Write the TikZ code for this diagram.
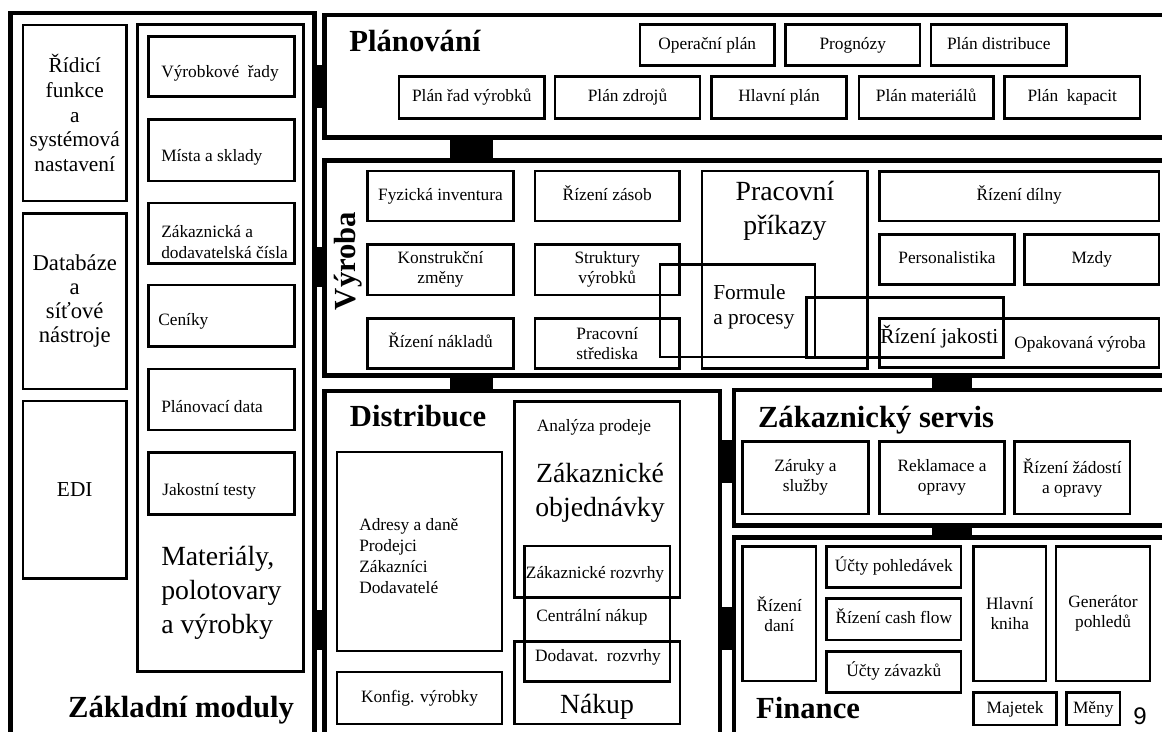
\documentclass[tikz,border=0pt]{standalone}
\usepackage{fontspec}
\setmainfont{Liberation Serif}
\newfontfamily\pagenumfont{Liberation Sans}
\usetikzlibrary{fit}

\tikzset{
  frame/.style={draw, line width=3.4pt, inner sep=0pt},
  box/.style={draw, line width=2.2pt, inner sep=0pt},
  link/.style={fill=black},
  lbl2/.style={inner sep=0.75pt, align=center, font=\fontsize{13}{15}\selectfont},
  lbl/.style={lbl2, text height=9.4pt, text depth=2.9pt},
  txt/.style={inner sep=0.75pt, align=left, font=\fontsize{13}{15.75}\selectfont},
  midtxt/.style={inner sep=0.75pt, align=left, font=\fontsize{16}{18.75}\selectfont},
  bigtxt/.style={inner sep=0.75pt, align=center, font=\fontsize{20.8}{25.5}\selectfont},
  headtxt/.style={inner sep=0.75pt, anchor=base, font=\fontsize{23}{27}\selectfont\bfseries},
}

\begin{document}
\begin{tikzpicture}[x=0.75pt,y=0.75pt,yscale=-1,xscale=1]
    \useasboundingbox (0,0) rectangle (1162,731);
    \clip (0,0) rectangle (1162,731);
    \fill[white] (0,0) rectangle (1162,731);

    % Frames
    \node[frame, fit={(10.5,13) (314.5,745)}] (zaklad) {};
    \node[frame, fit={(324.5,15) (1180,137.5)}] (plan) {};
    \node[frame, fit={(324.5,160.5) (1180,375.5)}] (vyroba) {};
    \node[frame, fit={(324.5,391) (720,745)}] (distr) {};
    \node[frame, fit={(734,390) (1180,525.5)}] (servis) {};
    \node[frame, fit={(734,537.5) (1180,745)}] (fin) {};

    % Links between frames
    \fill[link] (zaklad.east |- 0,65) rectangle (plan.west |- 0,108);
    \fill[link] (zaklad.east |- 0,247) rectangle (vyroba.west |- 0,287);
    \fill[link] (zaklad.east |- 0,610) rectangle (distr.west |- 0,650);
    \fill[link] (plan.south -| 450,0) rectangle (vyroba.north -| 493,0);
    \fill[link] (vyroba.south -| 450,0) rectangle (distr.north -| 493,0);
    \fill[link] (vyroba.south -| 932,0) rectangle (servis.north -| 972,0);
    \fill[link] (distr.east |- 0,440) rectangle (servis.west |- 0,483);
    \fill[link] (servis.south -| 932,0) rectangle (fin.north -| 972,0);
    \fill[link] (distr.east |- 0,607) rectangle (fin.west |- 0,650);

    % Zakladni moduly
    \node[box, fit={(23,25) (126.5,201)}] (ridici) {};
    \node[lbl2, font=\fontsize{16}{18.5}\selectfont] (ridici-l) at (ridici) {Řídicí\\funkce\\a\\systémová\\nastavení};
    \node[box, fit={(23,213.5) (126.5,389)}] (datab) {};
    \node[lbl2, font=\fontsize{17}{18}\selectfont] (datab-l) at (datab) {Databáze\\a\\síťové\\nástroje};
    \node[box, fit={(23,401) (126.5,578.5)}] (edi) {};
    \node[lbl2, font=\fontsize{16}{18.5}\selectfont] (edi-l) at (edi) {EDI};
    \node[box, fit={(137.5,24.5) (303.5,671.5)}] (matcol) {};
    \node[box, fit={(148.5,36.5) (294.5,96.5)}] (vyrrady) {};
    \node[box, fit={(148.5,119.5) (294.5,181)}] (mista) {};
    \node[box, fit={(148.5,203) (294.5,263.5)}] (cisla) {};
    \node[box, fit={(148.5,285) (294.5,346.5)}] (ceniky) {};
    \node[box, fit={(148.5,369) (294.5,430)}] (plandata) {};
    \node[box, fit={(148.5,452.5) (294.5,514.5)}] (jakost) {};
    \node[txt, anchor=west] (vyrrady-l) at (160,73) {Výrobkové~~řady};
    \node[txt, anchor=west] (mista-l) at (160,157) {Místa a sklady};
    \node[txt, anchor=west] (cisla-l) at (160,242) {Zákaznická a\\dodavatelská čísla};
    \node[txt, anchor=west] (ceniky-l) at (157,321) {Ceníky};
    \node[txt, anchor=west] (plandata-l) at (160,407) {Plánovací data};
    \node[txt, anchor=west] (jakost-l) at (161,491) {Jakostní testy};
    \node[bigtxt, align=left, anchor=west] (matcol-l) at (160,593) {Materiály,\\polotovary\\a výrobky};
    \node[headtxt] (zaklad-h) at (181,717) {Základní moduly};

    % Planovani
    \node[headtxt] (plan-h) at (415,52) {Plánování};
    \node[box, fit={(640,24.5) (774.5,65.5)}] (oper) {};
    \node[lbl] (oper-l) at (oper) {Operační plán};
    \node[box, fit={(785.5,24.5) (920,65.5)}] (progn) {};
    \node[lbl] (progn-l) at (progn) {Prognózy};
    \node[box, fit={(931,24.5) (1066.5,65.5)}] (pdistr) {};
    \node[lbl] (pdistr-l) at (pdistr) {Plán distribuce};
    \node[box, fit={(399,76.5) (544.5,118.5)}] (pradv) {};
    \node[lbl] (pradv-l) at (pradv) {Plán řad výrobků};
    \node[box, fit={(555,76.5) (700,118.5)}] (pzdr) {};
    \node[lbl] (pzdr-l) at (pzdr) {Plán zdrojů};
    \node[box, fit={(711.5,76.5) (846.5,118.5)}] (hlplan) {};
    \node[lbl] (hlplan-l) at (hlplan) {Hlavní plán};
    \node[box, fit={(859,76.5) (993.5,118.5)}] (pmat) {};
    \node[lbl] (pmat-l) at (pmat) {Plán materiálů};
    \node[box, fit={(1004.5,76.5) (1140,118.5)}] (pkap) {};
    \node[lbl] (pkap-l) at (pkap) {Plán~~kapacit};

    % Vyroba
    \node[headtxt, rotate=90] (vyroba-h) at (355,261) {Výroba};
    \node[box, fit={(367.5,171) (513.5,221)}] (fyz) {};
    \node[lbl] (fyz-l) at (fyz) {Fyzická inventura};
    \node[box, fit={(367.5,244.5) (513.5,295)}] (konstr) {};
    \node[lbl2] (konstr-l) at (konstr) {Konstrukční\\změny};
    \node[box, fit={(367.5,318.5) (513.5,368.5)}] (naklad) {};
    \node[lbl] (naklad-l) at (naklad) {Řízení nákladů};
    \node[box, fit={(535,171) (679.5,221)}] (zasob) {};
    \node[lbl] (zasob-l) at (zasob) {Řízení zásob};
    \node[box, fit={(535,244.5) (679.5,295)}] (strukt) {};
    \node[lbl2] (strukt-l) at (strukt) {Struktury\\výrobků};
    \node[box, fit={(535,318.5) (679.5,368.5)}] (stred) {};
    \node[lbl2] (stred-l) at (stred) {Pracovní\\střediska};
    \node[box, fit={(702,171) (867.5,368.5)}] (prikazy) {};
    \node[box, fit={(660,264.5) (815,357)}] (formule) {};
    \node[box, fit={(879.5,171.5) (1159,221)}] (dilna) {};
    \node[lbl] (dilna-l) at (dilna) {Řízení dílny};
    \node[box, fit={(879.5,234.5) (1014.5,284.5)}] (person) {};
    \node[lbl] (person-l) at (person) {Personalistika};
    \node[box, fit={(1024.5,234.5) (1159,284.5)}] (mzdy) {};
    \node[lbl] (mzdy-l) at (mzdy) {Mzdy};
    \node[box, fit={(879.5,318.5) (1159,367.5)}] (opak) {};
    \node[box, fit={(806.5,297.5) (1003.5,357.5)}] (rjak) {};
    \node[bigtxt] (prikazy-l) at (785,211) {Pracovní\\příkazy};
    \node[midtxt, anchor=west] (formule-l) at (712,307) {Formule\\a procesy};
    \node[midtxt, anchor=west] (rjak-l) at (879,337) {Řízení jakosti};
    \node[txt] (opak-l) at (1080,344) {Opakovaná výroba};

    % Distribuce a nakup
    \node[headtxt] (distr-h) at (418,426) {Distribuce};
    \node[box, fit={(337,452) (502,651)}] (adresy) {};
    \node[box, fit={(337,672) (502,724)}] (konfig) {};
    \node[lbl] (konfig-l) at (konfig) {Konfig. výrobky};
    \node[box, fit={(514.5,401.5) (680,597.5)}] (objed) {};
    \node[box, fit={(514.5,641.5) (680,724)}] (nakup) {};
    \node[box, fit={(524.5,546) (670,681.5)}] (rozvrhy) {};
    \node[txt, anchor=west] (adresy-l) at (358,556) {Adresy a daně\\Prodejci\\Zákazníci\\Dodavatelé};
    \node[txt] (analyza-l) at (594,427) {Analýza prodeje};
    \node[bigtxt] (objed-l) at (600,493) {Zákaznické\\objednávky};
    \node[txt] (zrozvrhy-l) at (595,574) {Zákaznické rozvrhy};
    \node[txt] (centr-l) at (592,617) {Centrální nákup};
    \node[txt] (drozvrhy-l) at (598,657) {Dodavat.~~rozvrhy};
    \node[bigtxt] (nakup-l) at (597,707) {Nákup};

    % Zakaznicky servis
    \node[headtxt] (servis-h) at (876,427) {Zákaznický servis};
    \node[box, fit={(742.5,441.5) (868.5,514)}] (zaruky) {};
    \node[lbl2] (zaruky-l) at (zaruky) {Záruky a\\služby};
    \node[box, fit={(879.5,441.5) (1004.5,514)}] (reklam) {};
    \node[lbl2] (reklam-l) at (reklam) {Reklamace a\\opravy};
    \node[box, fit={(1014.5,441.5) (1130,514)}] (zadost) {};
    \node[lbl2] (zadost-l) at (zadost) {Řízení žádostí\\a opravy};

    % Finance
    \node[headtxt] (fin-h) at (808,718) {Finance};
    \node[box, fit={(742.5,546.5) (816,681)}] (dane) {};
    \node[lbl2] (dane-l) at (dane) {Řízení\\daní};
    \node[box, fit={(826.5,546.5) (961,587.5)}] (pohl) {};
    \node[lbl] (pohl-l) at (pohl) {Účty pohledávek};
    \node[box, fit={(826.5,598.5) (961,640)}] (cash) {};
    \node[lbl] (cash-l) at (cash) {Řízení cash flow};
    \node[box, fit={(826.5,651.5) (961,692.5)}] (zavaz) {};
    \node[lbl] (zavaz-l) at (zavaz) {Účty závazků};
    \node[box, fit={(973.5,546.5) (1046,681)}] (kniha) {};
    \node[lbl2] (kniha-l) at (kniha) {Hlavní\\kniha};
    \node[box, fit={(1056,546.5) (1150,681)}] (gener) {};
    \node[lbl2] (gener-l) at (gener) {Generátor\\pohledů};
    \node[box, fit={(973.5,692.5) (1056.5,725)}] (majetek) {};
    \node[lbl] (majetek-l) at (majetek) {Majetek};
    \node[box, fit={(1066.5,692.5) (1120,725)}] (meny) {};
    \node[lbl] (meny-l) at (meny) {Měny};
    \node[inner sep=0pt, font=\pagenumfont\fontsize{18}{20}\selectfont] (pagenum) at (1140,716) {9};
\end{tikzpicture}
\end{document}
